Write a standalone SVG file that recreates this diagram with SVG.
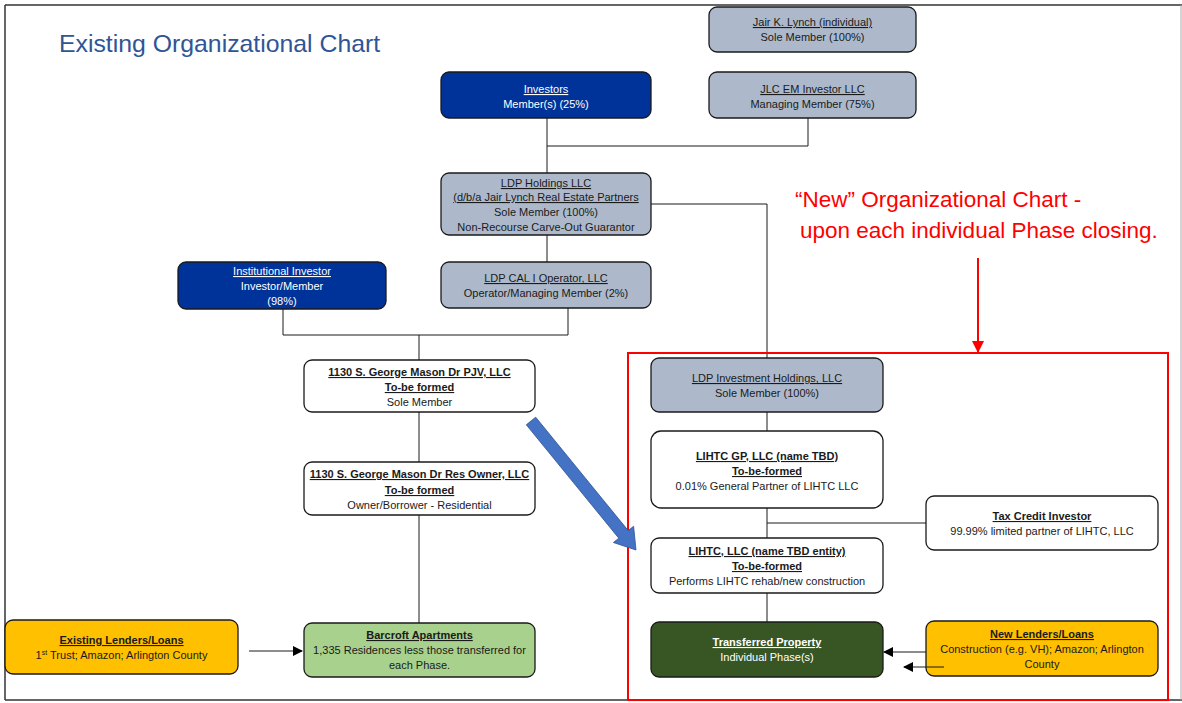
<svg xmlns="http://www.w3.org/2000/svg" width="1182" height="703" viewBox="0 0 1182 703">
<style>
.box{stroke:#1a1a1a;stroke-width:1.3}
.grey{fill:#ADB9CA}
.blue{fill:#003399}
.white{fill:#ffffff}
.yellow{fill:#FFC000}
.lgreen{fill:#A9D18E}
.dgreen{fill:#375623}
text{font-family:"Liberation Sans",Arial,sans-serif;font-size:11px;fill:#1a1a1a;text-anchor:middle}
.w{fill:#ffffff}
.u{text-decoration:underline}
.b{font-weight:bold}
.conn line,.conn polyline{stroke:#1a1a1a;stroke-width:1;fill:none}
</style>
<defs>
<marker id="ah" markerWidth="10" markerHeight="10" refX="9" refY="5" orient="auto" markerUnits="userSpaceOnUse">
<path d="M0,0 L10,5 L0,10 z" fill="#000"/>
</marker>
<marker id="rah" markerWidth="12" markerHeight="12" refX="11" refY="6" orient="auto" markerUnits="userSpaceOnUse">
<path d="M0,0 L12,6 L0,12 z" fill="#FF0000"/>
</marker>
</defs>
<rect width="1182" height="703" fill="#ffffff"/>
<!-- frame -->
<line x1="5" y1="5" x2="1182" y2="5" stroke="#333" stroke-width="1.5"/>
<line x1="5" y1="5" x2="5" y2="700" stroke="#333" stroke-width="1.5"/>
<line x1="5" y1="700" x2="1182" y2="700" stroke="#333" stroke-width="1.5"/>
<line x1="1181" y1="5" x2="1181" y2="700" stroke="#aaa" stroke-width="1"/>

<text x="59" y="52" style="font-size:24.8px;fill:#2F5597;text-anchor:start">Existing Organizational Chart</text>

<g class="conn" id="connectors">
<polyline points="547,118 547,173"/>
<polyline points="808,118 808,146 547,146"/>
<polyline points="547,235 547,262"/>
<polyline points="651,204 767,204 767,358"/>
<polyline points="283,309 283,335 568,335 568,308"/>
<polyline points="419,335 419,360"/>
<polyline points="419,412 419,462"/>
<polyline points="419,515 419,623"/>
<line x1="249" y1="651" x2="302" y2="651" marker-end="url(#ah)"/>
<polyline points="767,412 767,431"/>
<polyline points="767,508 767,538"/>
<polyline points="767,523 926,523"/>
<polyline points="767,593 767,622"/>
<line x1="926" y1="652" x2="884" y2="652" marker-end="url(#ah)"/>
</g>

<g id="jair">
<rect class="box grey" x="709" y="7" width="207" height="45" rx="8"/>
<text x="812.5" y="26" class="u">Jair K. Lynch (individual)</text>
<text x="812.5" y="41">Sole Member (100%)</text>
</g>
<g id="investors">
<rect class="box blue" x="441" y="72" width="210" height="46" rx="8"/>
<text x="546" y="93" class="w u">Investors</text>
<text x="546" y="108" class="w">Member(s) (25%)</text>
</g>
<g id="jlc">
<rect class="box grey" x="709" y="72" width="207" height="46" rx="8"/>
<text x="812.5" y="93" class="u">JLC EM Investor LLC</text>
<text x="812.5" y="108">Managing Member (75%)</text>
</g>
<g id="ldp-holdings">
<rect class="box grey" x="441" y="173" width="210" height="62" rx="8"/>
<text x="546" y="187" class="u">LDP Holdings LLC</text>
<text x="546" y="201" class="u">(d/b/a Jair Lynch Real Estate Partners</text>
<text x="546" y="216">Sole Member (100%)</text>
<text x="546" y="231">Non-Recourse Carve-Out Guarantor</text>
</g>
<g id="institutional">
<rect class="box blue" x="178" y="262" width="208" height="47" rx="8"/>
<text x="282" y="275" class="w u">Institutional Investor</text>
<text x="282" y="290" class="w">Investor/Member</text>
<text x="282" y="305" class="w">(98%)</text>
</g>
<g id="cal-operator">
<rect class="box grey" x="441" y="262" width="210" height="46" rx="8"/>
<text x="546" y="282" class="u">LDP CAL I Operator, LLC</text>
<text x="546" y="297">Operator/Managing Member (2%)</text>
</g>
<g id="pjv">
<rect class="box white" x="304" y="360" width="231" height="52" rx="8"/>
<text x="419.5" y="376" class="b u">1130 S. George Mason Dr PJV, LLC</text>
<text x="419.5" y="391" class="b u">To-be formed</text>
<text x="419.5" y="406">Sole Member</text>
</g>
<g id="res-owner">
<rect class="box white" x="304" y="462" width="231" height="53" rx="8"/>
<text x="419.5" y="478" class="b u">1130 S. George Mason Dr Res Owner, LLC</text>
<text x="419.5" y="494" class="b u">To-be formed</text>
<text x="419.5" y="509">Owner/Borrower - Residential</text>
</g>
<g id="existing-lenders">
<rect class="box yellow" x="5" y="620" width="233" height="54" rx="8"/>
<text x="121.5" y="644" class="b u">Existing Lenders/Loans</text>
<text x="121.5" y="659">1<tspan style="font-size:7px" dy="-4">st</tspan><tspan dy="4"> Trust; Amazon; Arlington County</tspan></text>
</g>
<g id="barcroft">
<rect class="box lgreen" x="304" y="623" width="231" height="54" rx="8"/>
<text x="419.5" y="639" class="b u">Barcroft Apartments</text>
<text x="419.5" y="654">1,335 Residences less those transferred for</text>
<text x="419.5" y="669">each Phase.</text>
</g>

<!-- New chart -->
<text x="795" y="207" style="font-size:22.5px;fill:#FF0000;text-anchor:start">“New” Organizational Chart -</text>
<text x="800" y="238" style="font-size:22.5px;fill:#FF0000;text-anchor:start">upon each individual Phase closing.</text>
<line x1="978" y1="258" x2="978" y2="352" stroke="#FF0000" stroke-width="2" marker-end="url(#rah)"/>
<rect x="628" y="353" width="540" height="347" fill="none" stroke="#FF0000" stroke-width="2"/>

<polygon points="526.3,424.8 535.7,417.2 628.2,530.6 633.6,526.3 636,550 613.4,542.5 618.8,538.2" fill="#4472C4" stroke="#2F528F" stroke-width="0.8"/>

<g id="ldp-investment">
<rect class="box grey" x="651" y="358" width="232" height="54" rx="8"/>
<text x="767" y="382" class="u">LDP Investment Holdings, LLC</text>
<text x="767" y="397">Sole Member (100%)</text>
</g>
<g id="lihtc-gp">
<rect class="box white" x="651" y="431" width="232" height="77" rx="10"/>
<text x="767" y="460" class="b u">LIHTC GP, LLC (name TBD)</text>
<text x="767" y="475" class="b u">To-be-formed</text>
<text x="767" y="490">0.01% General Partner of LIHTC LLC</text>
</g>
<g id="tax-credit">
<rect class="box white" x="926" y="496" width="232" height="54" rx="8"/>
<text x="1042" y="520" class="b u">Tax Credit Investor</text>
<text x="1042" y="535">99.99% limited partner of LIHTC, LLC</text>
</g>
<g id="lihtc-llc">
<rect class="box white" x="651" y="538" width="232" height="55" rx="8"/>
<text x="767" y="555" class="b u">LIHTC, LLC (name TBD entity)</text>
<text x="767" y="570" class="b u">To-be-formed</text>
<text x="767" y="585">Performs LIHTC rehab/new construction</text>
</g>
<g id="transferred">
<rect class="box dgreen" x="651" y="622" width="232" height="55" rx="8"/>
<text x="767" y="646" class="w b u">Transferred Property</text>
<text x="767" y="661" class="w">Individual Phase(s)</text>
</g>
<g id="new-lenders">
<rect class="box yellow" x="926" y="621" width="232" height="55" rx="8"/>
<text x="1042" y="638" class="b u">New Lenders/Loans</text>
<text x="1042" y="653">Construction (e.g. VH); Amazon; Arlington</text>
<text x="1042" y="668">County</text>
</g>
<g class="conn">
<line x1="944" y1="667" x2="904" y2="667" marker-end="url(#ah)"/>
</g>
</svg>
